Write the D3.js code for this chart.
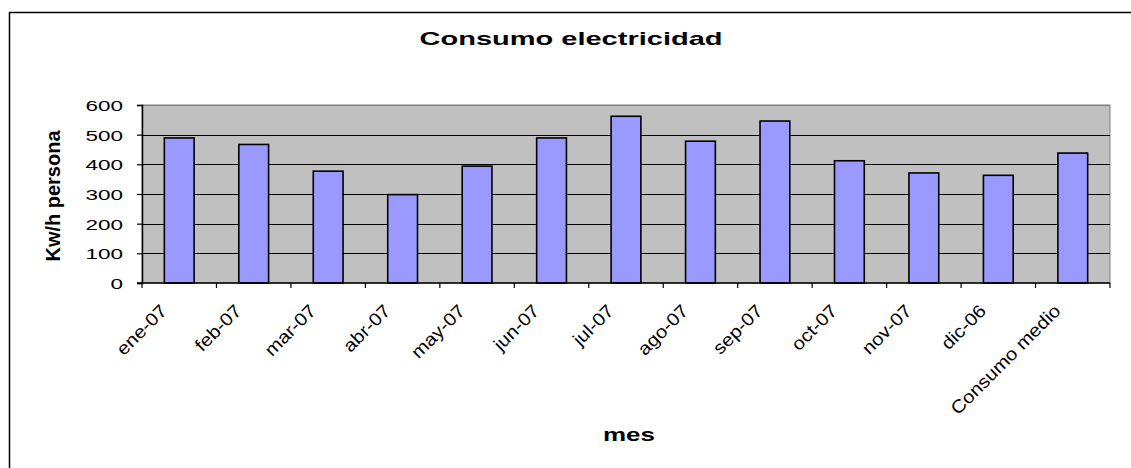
<!DOCTYPE html>
<html>
<head>
<meta charset="utf-8">
<script src="https://cdn.jsdelivr.net/npm/d3@7"></script>
<style>
  html, body { margin: 0; padding: 0; background: #fff; }
  svg { display: block; }
  text { font-family: Arial, "Liberation Sans", sans-serif; fill: #000; }
</style>
</head>
<body>
<svg id="chart" width="1131" height="468"></svg>
<script>
const categories = ["ene-07","feb-07","mar-07","abr-07","may-07","jun-07","jul-07","ago-07","sep-07","oct-07","nov-07","dic-06","Consumo medio"];
const values = [489, 467, 377, 298, 394, 489, 562, 478, 546, 412, 371, 363, 438];
const yTicks = [0, 100, 200, 300, 400, 500, 600];
const chartTitle = "Consumo electricidad";
const xTitle = "mes";
const yTitle = "Kw/h persona";

const W = 1131, H = 468;
const plot = { left: 142, right: 1110, top: 105, bottom: 283 };
const svg = d3.select("#chart");

// outer chart border (extends beyond the viewport at right and bottom)
svg.append("rect").attr("x", 9.5).attr("y", 12.5).attr("width", 1200).attr("height", 600)
  .attr("fill", "#fff").attr("stroke", "#000").attr("stroke-width", 1.5);

const x = d3.scaleBand().domain(categories).range([plot.left, plot.right])
  .paddingInner(0.6).paddingOuter(0.3);
const y = d3.scaleLinear().domain([0, 600]).range([plot.bottom, plot.top]);

// plot background
svg.append("rect").attr("x", plot.left).attr("y", plot.top)
  .attr("width", plot.right - plot.left).attr("height", plot.bottom - plot.top)
  .attr("fill", "#C0C0C0").attr("stroke", "#808080").attr("stroke-width", 1);

// gridlines
svg.append("g").selectAll("line").data(yTicks.filter(d => d > 0)).join("line")
  .attr("x1", plot.left).attr("x2", plot.right)
  .attr("y1", d => Math.round(y(d)) + 0.5).attr("y2", d => Math.round(y(d)) + 0.5)
  .attr("stroke", d => d === 600 ? "#808080" : "#000").attr("stroke-width", 1);

// bars
svg.append("g").selectAll("rect").data(values).join("rect")
  .attr("x", (d, i) => x(categories[i]))
  .attr("y", d => y(d))
  .attr("width", x.bandwidth())
  .attr("height", d => y(0) - y(d))
  .attr("fill", "#9999FF").attr("stroke", "#000").attr("stroke-width", 1.6);

// y axis
const yAxis = d3.axisLeft(y).tickValues(yTicks).tickSize(5).tickPadding(6);
const gy = svg.append("g").attr("transform", `translate(${plot.left},0)`).call(yAxis);
gy.select(".domain").attr("stroke", "#000").attr("stroke-width", 1.5);
gy.selectAll(".tick line").attr("stroke", "#000").attr("stroke-width", 1.2);
gy.selectAll(".tick text")
  .attr("font-size", 15).attr("font-family", "Arial, 'Liberation Sans', sans-serif")
  .attr("dy", "0.36em")
  .attr("x", null)
  .attr("transform", "translate(-19,0) scale(1.5,1)")
  .attr("text-anchor", "end");

// x axis: ticks at category boundaries
const step = x.step();
const halfGap = (step - x.bandwidth()) / 2;
const bounds = categories.map(c => x(c) - halfGap).concat([x(categories[categories.length - 1]) + x.bandwidth() + halfGap]);
const gx = svg.append("g");
gx.append("line").attr("x1", plot.left - 5).attr("x2", plot.right)
  .attr("y1", plot.bottom).attr("y2", plot.bottom).attr("stroke", "#000").attr("stroke-width", 1.5);
gx.selectAll("line.tk").data(bounds).join("line").attr("class", "tk")
  .attr("x1", d => d).attr("x2", d => d)
  .attr("y1", plot.bottom).attr("y2", plot.bottom + 5)
  .attr("stroke", "#000").attr("stroke-width", 1.2);
gx.selectAll("text").data(categories).join("text")
  .attr("transform", c => `translate(${x(c) + x.bandwidth() / 2 - 11},${plot.bottom + 29}) rotate(-45) scale(1.12,1)`)
  .attr("text-anchor", "end")
  .attr("font-size", 18)
  .text(c => c);

// titles
svg.append("text").attr("x", 571).attr("y", 45).attr("text-anchor", "middle")
  .attr("font-size", 18.5).attr("font-weight", "bold")
  .attr("textLength", 303).attr("lengthAdjust", "spacingAndGlyphs")
  .text(chartTitle);

svg.append("text").attr("x", 629).attr("y", 441).attr("text-anchor", "middle")
  .attr("font-size", 19).attr("font-weight", "bold")
  .attr("textLength", 52).attr("lengthAdjust", "spacingAndGlyphs")
  .text(xTitle);

svg.append("text").attr("transform", "translate(60,196) rotate(-90)").attr("text-anchor", "middle")
  .attr("font-size", 20).attr("font-weight", "bold")
  .attr("textLength", 131).attr("lengthAdjust", "spacingAndGlyphs")
  .text(yTitle);
</script>
</body>
</html>
